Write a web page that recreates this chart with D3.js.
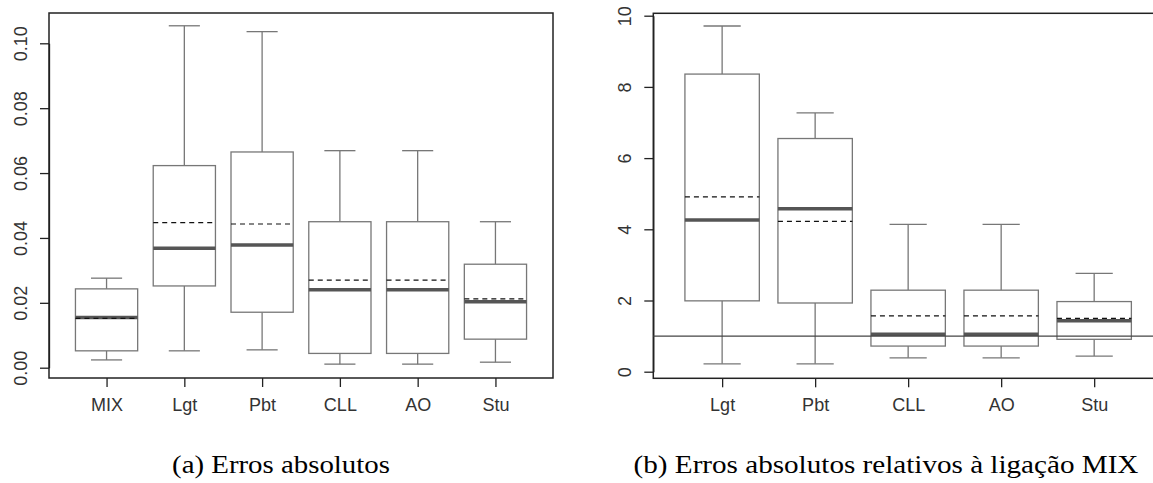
<!DOCTYPE html>
<html>
<head>
<meta charset="utf-8">
<script src="https://cdn.jsdelivr.net/npm/d3@7"></script>
<style>
  body { margin: 0; background: #fff; }
  text { font-family: Arial, "Liberation Sans", sans-serif; }
</style>
</head>
<body>
<svg id="chart" width="1153" height="483"></svg>
<script>
// (a) absolute errors
const catsA = ["MIX", "Lgt", "Pbt", "CLL", "AO", "Stu"]
const loA   = [0.0024, 0.0052, 0.0055, 0.0011, 0.0011, 0.0017]
const q1A   = [0.0052, 0.0252, 0.0171, 0.0044, 0.0044, 0.0088]
const medA  = [0.0155, 0.0368, 0.0378, 0.0240, 0.0240, 0.0203]
const meanA = [0.0152, 0.0447, 0.0443, 0.0270, 0.0270, 0.0212]
const q3A   = [0.0243, 0.0623, 0.0665, 0.0450, 0.0450, 0.0319]
const hiA   = [0.0276, 0.1054, 0.1036, 0.0669, 0.0669, 0.0450]
const ticksA = [0, 0.02, 0.04, 0.06, 0.08, 0.10]

// (b) absolute errors relative to MIX
const catsB = ["Lgt", "Pbt", "CLL", "AO", "Stu"]
const loB   = [0.22, 0.22, 0.39, 0.39, 0.44]
const q1B   = [1.99, 1.93, 0.72, 0.72, 0.91]
const medB  = [4.26, 4.58, 1.05, 1.05, 1.43]
const meanB = [4.91, 4.22, 1.57, 1.57, 1.50]
const q3B   = [8.36, 6.55, 2.29, 2.29, 1.97]
const hiB   = [9.71, 7.27, 4.14, 4.14, 2.76]
const ticksB = [0, 2, 4, 6, 8, 10]
const refLineB = 1

const captions = ["(a) Erros absolutos", "(b) Erros absolutos relativos à ligação MIX"]

const svg = d3.select('#chart')

function drawPanel(opt) {
    const n = opt.cats.length
    const g = svg.append('g')

    const x = d3.scaleLinear()
        .domain([0.26, n + 0.74])
        .range([opt.left, opt.right])
    const y = d3.scaleLinear()
        .domain(opt.yDomain)
        .range(opt.yRange)

    const stats = opt.cats.map((c, i) => ({
        i: i + 1, lo: opt.lo[i], q1: opt.q1[i], med: opt.med[i],
        mean: opt.mean[i], q3: opt.q3[i], hi: opt.hi[i]
    }))

    // y axis
    const yAxis = g.append('g')
        .attr('transform', `translate(${opt.left},0)`)
        .call(d3.axisLeft(y).tickValues(opt.ticks).tickSize(9).tickSizeOuter(0).tickFormat(opt.fmt))
    yAxis.select('.domain').attr('stroke', '#222').attr('stroke-width', 1.3)
    yAxis.selectAll('.tick line').attr('stroke', '#222').attr('stroke-width', 1.3)
    yAxis.selectAll('.tick text')
        .attr('x', 0).attr('dy', 0)
        .attr('transform', `translate(${-opt.labelOff},0) rotate(-90)`)
        .attr('text-anchor', 'middle')
        .attr('fill', '#333')
        .style('font-size', '18px')

    // x axis
    const xAxis = g.append('g')
        .attr('transform', `translate(0,${opt.bottom})`)
        .call(d3.axisBottom(x).tickValues(d3.range(1, n + 1)).tickSize(9).tickSizeOuter(0)
            .tickFormat(d => opt.cats[d - 1]))
    xAxis.select('.domain').remove()
    xAxis.selectAll('.tick line').attr('stroke', '#222').attr('stroke-width', 1.3)
    xAxis.selectAll('.tick text')
        .attr('y', 20)
        .attr('fill', '#333')
        .style('font-size', '18px')

    // frame
    g.append('rect')
        .attr('x', opt.left).attr('y', opt.top)
        .attr('width', opt.right - opt.left).attr('height', opt.bottom - opt.top)
        .attr('fill', 'none').attr('stroke', '#222').attr('stroke-width', 1.5)

    const hw = 0.4, cw = 0.2
    const box = g.selectAll('.box').data(stats).join('g').attr('class', 'box')

    // whiskers
    box.append('line')
        .attr('x1', d => x(d.i)).attr('x2', d => x(d.i))
        .attr('y1', d => y(d.hi)).attr('y2', d => y(d.q3))
        .attr('stroke', '#777').attr('stroke-width', 1.3)
    box.append('line')
        .attr('x1', d => x(d.i)).attr('x2', d => x(d.i))
        .attr('y1', d => y(d.q1)).attr('y2', d => y(d.lo))
        .attr('stroke', '#777').attr('stroke-width', 1.3)
    // caps
    box.append('line')
        .attr('x1', d => x(d.i - cw)).attr('x2', d => x(d.i + cw))
        .attr('y1', d => y(d.hi)).attr('y2', d => y(d.hi))
        .attr('stroke', '#777').attr('stroke-width', 1.3)
    box.append('line')
        .attr('x1', d => x(d.i - cw)).attr('x2', d => x(d.i + cw))
        .attr('y1', d => y(d.lo)).attr('y2', d => y(d.lo))
        .attr('stroke', '#777').attr('stroke-width', 1.3)
    // box
    box.append('rect')
        .attr('x', d => x(d.i - hw)).attr('width', d => x(d.i + hw) - x(d.i - hw))
        .attr('y', d => y(d.q3)).attr('height', d => y(d.q1) - y(d.q3))
        .attr('fill', '#fff').attr('stroke', '#777').attr('stroke-width', 1.3)
    // median
    box.append('line')
        .attr('x1', d => x(d.i - hw)).attr('x2', d => x(d.i + hw))
        .attr('y1', d => y(d.med)).attr('y2', d => y(d.med))
        .attr('stroke', '#555').attr('stroke-width', 3.5)
    // mean
    box.append('line')
        .attr('x1', d => x(d.i - hw)).attr('x2', d => x(d.i + hw))
        .attr('y1', d => y(d.mean)).attr('y2', d => y(d.mean))
        .attr('stroke', '#111').attr('stroke-width', 1.2).attr('stroke-dasharray', '5,4')

    if (opt.refLine !== undefined) {
        g.append('line')
            .attr('x1', opt.left).attr('x2', opt.right)
            .attr('y1', y(opt.refLine)).attr('y2', y(opt.refLine))
            .attr('stroke', '#444').attr('stroke-width', 1.3)
    }

    // caption, stretched horizontally like the original
    const cap = svg.append('text')
        .attr('x', 0).attr('y', 0)
        .attr('text-anchor', 'middle')
        .style('font-family', '"Liberation Serif", "Times New Roman", serif')
        .style('font-size', '25px')
        .attr('fill', '#000')
        .text(opt.caption)
    const sx = opt.capLen / cap.node().getComputedTextLength()
    cap.attr('transform', `translate(${opt.capX},473) scale(${sx},1)`)
}

drawPanel({
    cats: catsA, lo: loA, q1: q1A, med: medA, mean: meanA, q3: q3A, hi: hiA,
    ticks: ticksA, fmt: d3.format('.2f'),
    left: 49, right: 553, top: 13, bottom: 378,
    yDomain: [0, 0.1], yRange: [367.7, 43.3], labelOff: 22,
    caption: captions[0], capX: 281, capLen: 218
})

drawPanel({
    cats: catsB, lo: loB, q1: q1B, med: medB, mean: meanB, q3: q3B, hi: hiB,
    ticks: ticksB, fmt: d3.format('d'), refLine: refLineB,
    left: 653.3, right: 1163, top: 13.3, bottom: 378.3,
    yDomain: [0, 10], yRange: [371.7, 15.7], labelOff: 22,
    caption: captions[1], capX: 886, capLen: 505
})
</script>
</body>
</html>
